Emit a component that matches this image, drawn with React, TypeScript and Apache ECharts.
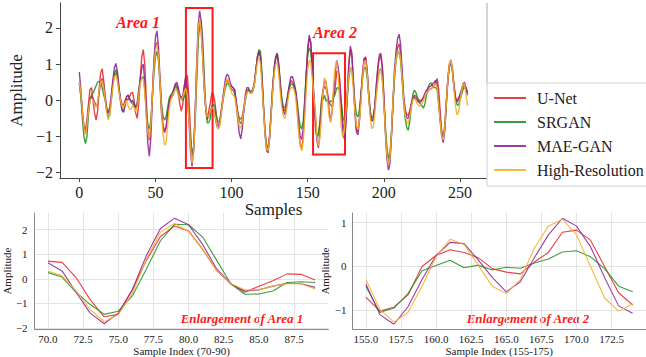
import React, { useEffect, useRef } from "react";
import * as echarts from "echarts";

const SERIES_NAMES = ["U-Net", "SRGAN", "MAE-GAN", "High-Resolution"];

const UNET = [
  0.45, 0.15, -0.35, -0.7, -0.85, -0.55, -0.1, 0.3, 0.35, 0.0,
  -0.35, -0.55, -0.3, 0.3, 0.75, 0.87, 0.55, 0.1, -0.2, -0.35,
  -0.25, 0.1, 0.45, 0.7, 0.75, 0.6, 0.3, 0.05, -0.1, -0.15,
  0.0, 0.05, 0.0, 0.1, 0.2, 0.22, 0.0, -0.35, -0.5, -0.1,
  0.6, 1.2, 1.4, 1.0, 0.0, -0.8, -1.1, -0.75, 0.2, 1.0,
  1.5, 1.6, 1.2, 0.4, -0.4, -0.8, -0.9, -0.75, -0.4, -0.05,
  0.1, 0.1, 0.2, 0.4, 0.45, 0.2, -0.1, -0.3, -0.1, 0.4,
  0.72, 0.67, 0.05, -0.85, -1.55, -1.45, -0.45, 0.75, 1.72, 2.15,
  1.95, 1.2, 0.33, -0.2, -0.55, -0.3, -0.08, 0.2, 0.18, -0.05,
  -0.4, -0.7, -0.65, -0.35, -0.05, 0.25, 0.45, 0.55, 0.5, 0.4,
  0.38, 0.35, 0.25, 0.0, -0.3, -0.5, -0.52, -0.45, -0.2, 0.05,
  0.22, 0.3, 0.22, 0.2, 0.3, 0.5, 0.85, 1.2, 1.38, 1.2,
  0.6, -0.2, -0.85, -1.25, -1.3, -0.95, -0.3, 0.35, 0.85, 1.15,
  1.25, 0.9, 0.4, 0.0, -0.25, -0.3, -0.1, 0.2, 0.4, 0.55,
  0.5, 0.4, 0.25, -0.2, -0.8, -1.2, -1.35, -1.05, -0.3, 0.6,
  1.35, 1.72, 1.6, 0.9, 0.05, -0.7, -1.02, -0.93, -0.65, 0.0,
  0.25, 0.38, 0.32, 0.2, -0.05, -0.13, -0.17, 0.1, 0.32, 0.78,
  0.83, 0.6, 0.0, -0.6, -0.88, -0.6, 0.2, 1.0, 1.4, 1.2,
  0.5, -0.3, -0.8, -0.87, -0.5, 0.15, 0.75, 1.15, 1.2, 0.85,
  0.25, -0.3, -0.57, -0.55, -0.2, 0.35, 0.85, 1.15, 1.25, 0.9,
  0.1, -0.8, -1.45, -1.75, -1.6, -0.95, -0.05, 0.7, 1.2, 1.45,
  1.56, 1.3, 0.7, 0.1, -0.25, -0.4, -0.41, -0.3, -0.1, 0.05,
  0.14, 0.12, 0.05, 0.0, 0.0, 0.0, 0.05, 0.1, 0.18, 0.25,
  0.3, 0.32, 0.35, 0.4, 0.5, 0.6, 0.3, -0.3, -0.85, -1.05,
  -0.8, -0.1, 0.6, 1.0, 1.12, 0.9, 0.45, 0.1, 0.0, 0.05,
  0.15, 0.25, 0.35, 0.42, 0.35, 0.23,
];

const SRGAN = [
  0.5, 0.1, -0.5, -1.0, -1.2, -1.0, -0.4, 0.0, 0.15, 0.2,
  0.3, 0.4, 0.5, 0.52, 0.5, 0.35, 0.15, 0.0, -0.25, -0.45,
  -0.4, 0.0, 0.45, 0.75, 0.85, 0.65, 0.3, 0.0, -0.25, -0.33,
  -0.15, 0.1, 0.12, 0.05, -0.05, -0.1, -0.15, -0.2, -0.05, 0.3,
  0.55, 0.62, 0.65, 0.3, -0.3, -0.7, -0.8, -0.55, 0.1, 0.75,
  1.2, 1.35, 1.1, 0.55, -0.1, -0.45, -0.55, -0.45, -0.2, 0.05,
  0.15, 0.2, 0.3, 0.4, 0.35, 0.15, 0.1, 0.05, 0.0, 0.1,
  0.25, 0.07, -0.55, -1.05, -1.45, -1.32, -0.7, 0.4, 1.55, 2.22,
  2.2, 1.7, 0.75, -0.2, -0.63, -0.62, -0.5, -0.15, -0.12, -0.15,
  -0.45, -0.6, -0.58, -0.4, -0.1, 0.15, 0.35, 0.47, 0.45, 0.35,
  0.3, 0.28, 0.2, -0.05, -0.35, -0.55, -0.65, -0.55, -0.3, 0.0,
  0.2, 0.3, 0.25, 0.25, 0.3, 0.5, 0.85, 1.2, 1.4, 1.35,
  0.7, -0.2, -0.9, -1.3, -1.35, -1.0, -0.35, 0.35, 0.9, 1.2,
  1.3, 1.0, 0.5, 0.05, -0.2, -0.2, -0.05, 0.15, 0.35, 0.45,
  0.45, 0.35, 0.25, 0.0, -0.4, -0.7, -0.8, -0.6, 0.0, 0.7,
  1.25, 1.45, 1.35, 0.8, 0.15, -0.45, -1.05, -0.95, -0.62, -0.1,
  0.02, 0.14, -0.03, 0.03, -0.08, -0.02, -0.04, 0.08, 0.17, 0.33,
  0.36, 0.22, -0.05, -0.45, -0.58, -0.4, 0.1, 0.6, 0.9, 0.85,
  0.45, -0.05, -0.4, -0.46, -0.25, 0.2, 0.6, 0.88, 0.92, 0.65,
  0.15, -0.3, -0.48, -0.45, -0.2, 0.2, 0.55, 0.82, 0.87, 0.6,
  0.0, -0.7, -1.3, -1.6, -1.5, -0.9, -0.1, 0.6, 1.1, 1.3,
  1.33, 1.1, 0.55, -0.05, -0.5, -0.75, -0.83, -0.6, -0.2, 0.15,
  0.28, 0.22, 0.1, -0.05, -0.1, -0.15, -0.22, -0.1, 0.15, 0.35,
  0.45, 0.48, 0.4, 0.35, 0.35, 0.3, -0.1, -0.55, -0.9, -1.0,
  -0.7, -0.05, 0.55, 0.95, 1.02, 0.8, 0.4, 0.05, -0.12, -0.14,
  0.0, 0.15, 0.3, 0.35, 0.3, 0.2,
];

const MAEGAN = [
  0.78, 0.3, -0.3, -0.75, -0.9, -0.7, -0.25, 0.05, 0.1, 0.05,
  -0.05, -0.15, -0.1, 0.2, 0.5, 0.6, 0.4, 0.05, -0.3, -0.35,
  -0.2, 0.15, 0.55, 0.9, 1.02, 0.8, 0.4, 0.0, -0.28, -0.33,
  -0.15, 0.1, 0.15, 0.05, -0.05, 0.0, -0.1, -0.2, -0.15, 0.2,
  0.6, 0.9, 1.0, 0.5, -0.4, -1.2, -1.55, -1.0, 0.1, 1.1,
  1.75, 1.92, 1.45, 0.6, -0.25, -0.7, -0.85, -0.75, -0.4, -0.05,
  0.1, 0.15, 0.3, 0.45, 0.5, 0.35, 0.15, 0.05, 0.15, 0.4,
  0.65, 0.32, -0.55, -1.4, -1.83, -1.4, -0.45, 0.95, 2.05, 2.47,
  2.2, 1.4, 0.4, -0.2, -0.5, -0.45, -0.3, -0.18, -0.2, -0.35,
  -0.65, -0.78, -0.7, -0.4, -0.05, 0.3, 0.6, 0.72, 0.68, 0.5,
  0.38, 0.35, 0.3, -0.05, -0.5, -0.9, -1.07, -0.8, -0.3, 0.15,
  0.35, 0.35, 0.25, 0.2, 0.25, 0.45, 0.85, 1.2, 1.35, 1.2,
  0.55, -0.25, -0.95, -1.4, -1.45, -1.05, -0.35, 0.35, 0.9, 1.2,
  1.3, 0.95, 0.4, -0.05, -0.3, -0.4, -0.2, 0.15, 0.45, 0.65,
  0.65, 0.5, 0.3, -0.1, -0.6, -1.0, -1.08, -0.8, -0.1, 0.75,
  1.45, 1.8, 1.6, 0.85, 0.1, -0.4, -1.1, -1.32, -0.92, -0.3,
  0.25, 0.55, 0.52, 0.15, -0.25, -0.58, -0.35, 0.2, 0.72, 1.1,
  0.92, 0.45, -0.25, -0.9, -1.07, -0.75, 0.1, 1.0, 1.5, 1.3,
  0.55, -0.35, -0.88, -0.96, -0.55, 0.15, 0.7, 1.12, 1.18, 0.85,
  0.2, -0.35, -0.57, -0.55, -0.2, 0.4, 0.9, 1.25, 1.3, 0.95,
  0.1, -0.9, -1.6, -1.93, -1.75, -1.0, -0.05, 0.85, 1.35, 1.7,
  1.83, 1.55, 0.85, 0.1, -0.3, -0.48, -0.5, -0.35, -0.1, 0.05,
  0.1, 0.05, -0.02, -0.05, -0.05, 0.0, 0.1, 0.2, 0.28, 0.33,
  0.38, 0.4, 0.45, 0.5, 0.55, 0.45, 0.0, -0.55, -1.0, -1.17,
  -0.85, -0.15, 0.5, 0.95, 1.05, 0.85, 0.4, 0.05, -0.05, 0.0,
  0.15, 0.3, 0.45, 0.5, 0.3, 0.14,
];

const HIGHRES = [
  0.5, 0.2, -0.3, -0.75, -0.95, -0.7, -0.3, 0.0, 0.05, 0.0,
  -0.1, -0.2, -0.05, 0.25, 0.5, 0.55, 0.35, 0.0, -0.35, -0.55,
  -0.4, 0.0, 0.35, 0.65, 0.7, 0.55, 0.25, 0.0, -0.15, -0.2,
  -0.1, 0.0, -0.15, -0.25, -0.25, -0.15, -0.2, -0.3, -0.2, 0.15,
  0.45, 0.6, 0.6, 0.2, -0.45, -0.9, -1.05, -0.65, 0.15, 0.9,
  1.4, 1.55, 1.2, 0.5, -0.3, -0.95, -1.25, -1.15, -0.7, -0.25,
  0.0, 0.1, 0.2, 0.3, 0.28, 0.15, 0.05, 0.0, 0.1, 0.25,
  0.32, 0.12, -0.5, -1.25, -1.75, -1.45, -0.6, 0.8, 1.9, 2.25,
  1.93, 1.2, 0.35, -0.2, -0.45, -0.45, -0.3, -0.2, -0.2, -0.42,
  -0.6, -0.8, -0.75, -0.45, -0.1, 0.2, 0.45, 0.6, 0.55, 0.35,
  0.2, 0.15, 0.1, -0.15, -0.45, -0.7, -0.78, -0.6, -0.25, 0.05,
  0.2, 0.25, 0.2, 0.2, 0.25, 0.45, 0.75, 1.05, 1.2, 1.0,
  0.4, -0.3, -0.95, -1.35, -1.4, -1.05, -0.4, 0.25, 0.75, 1.0,
  1.05, 0.7, 0.2, -0.2, -0.45, -0.5, -0.3, 0.0, 0.25, 0.35,
  0.35, 0.3, 0.1, -0.3, -0.85, -1.25, -1.4, -1.15, -0.5, 0.25,
  0.85, 1.1, 1.05, 0.6, 0.1, -0.3, -0.98, -1.27, -1.05, -0.45,
  0.22, 0.62, 0.5, 0.03, -0.45, -0.62, -0.3, 0.42, 0.92, 1.08,
  0.72, 0.0, -0.72, -1.02, -0.85, -0.35, 0.2, 0.7, 0.92, 0.8,
  0.3, -0.3, -0.7, -0.82, -0.55, -0.05, 0.6, 1.05, 1.1, 0.75,
  0.15, -0.45, -0.78, -0.75, -0.4, 0.1, 0.5, 0.8, 0.85, 0.55,
  -0.1, -0.85, -1.5, -1.8, -1.6, -0.9, 0.0, 0.7, 1.15, 1.35,
  1.38, 1.15, 0.6, 0.0, -0.4, -0.6, -0.64, -0.45, -0.2, 0.0,
  0.05, 0.0, -0.1, -0.15, -0.15, -0.1, 0.0, 0.1, 0.2, 0.25,
  0.3, 0.3, 0.35, 0.4, 0.45, 0.35, -0.1, -0.6, -1.0, -1.1,
  -0.75, -0.1, 0.55, 1.0, 1.1, 0.85, 0.35, -0.15, -0.4, -0.35,
  -0.05, 0.25, 0.45, 0.45, 0.15, -0.15,
];

const MAIN_X_TICKS = [0, 50, 100, 150, 200, 250];
const MAIN_Y_TICKS = [-2, -1, 0, 1, 2];
const AREA1_RANGE = [70, 89];
const AREA2_RANGE = [155, 174];
const A1_X_TICKS = [70, 72.5, 75, 77.5, 80, 82.5, 85, 87.5];
const A1_Y_TICKS = [-2, -1, 0, 1, 2];
const A2_X_TICKS = [155, 157.5, 160, 162.5, 165, 167.5, 170, 172.5];
const A2_Y_TICKS = [-1, 0, 1];

const COLORS = [
  "rgba(232,30,40,0.85)",
  "rgba(34,145,34,0.88)",
  "rgba(140,35,150,0.88)",
  "rgba(247,175,40,0.9)",
];

const ALL = [UNET, SRGAN, MAEGAN, HIGHRES];
const FONT = "'Liberation Serif', 'Times New Roman', serif";
const minus = (v: number | string) => String(v).replace("-", "\u2212");

export default function App() {
  const ref = useRef<HTMLDivElement>(null);

  useEffect(() => {
    if (!ref.current) return;
    const chart = echarts.init(ref.current, undefined, { renderer: "svg" });

    const mkX = (
      gridIndex: number,
      min: number,
      max: number,
      ticks: number[],
      opts: any
    ) => ({
      gridIndex,
      type: "value",
      min,
      max,
      axisLine: { show: true, onZero: false, lineStyle: { color: opts.axisColor, width: 1 } },
      axisTick: {
        show: opts.showTick,
        customValues: ticks,
        length: 4,
        lineStyle: { color: opts.axisColor },
      },
      axisLabel: {
        customValues: ticks,
        fontFamily: FONT,
        fontSize: opts.fontSize,
        color: "#222",
        margin: opts.margin,
        formatter: opts.fmt,
      },
      splitLine: { show: opts.grid, lineStyle: { color: "#e4e4e4", width: 1 } },
      name: opts.name,
      nameLocation: "middle",
      nameGap: opts.nameGap,
      nameTextStyle: { fontFamily: FONT, fontSize: opts.nameSize, color: "#222" },
    });

    const mainOpts = { axisColor: "#444", showTick: true, fontSize: 16, margin: 6, grid: false, nameSize: 17 };
    const subOpts = { axisColor: "#8a8a8a", showTick: false, fontSize: 11, margin: 4, grid: true, nameSize: 11 };

    const series: any[] = [];
    SERIES_NAMES.forEach((name, k) => {
      series.push({
        name,
        type: "line",
        xAxisIndex: 0,
        yAxisIndex: 0,
        symbol: "none",
        lineStyle: { color: COLORS[k], width: 1.4 },
        itemStyle: { color: COLORS[k] },
        data: ALL[k].map((v, i) => [i, v]),
        markArea:
          k === 0
            ? {
                silent: true,
                itemStyle: { color: "rgba(0,0,0,0)", borderColor: "#ff1a1a", borderWidth: 2 },
                data: [
                  [{ xAxis: 70, yAxis: 2.55 }, { xAxis: 87.5, yAxis: -1.87 }],
                  [{ xAxis: 153.5, yAxis: 1.3 }, { xAxis: 174.5, yAxis: -1.5 }],
                ],
              }
            : undefined,
        z: 2 + k,
      });
    });
    [AREA1_RANGE, AREA2_RANGE].forEach((rng, gi) => {
      SERIES_NAMES.forEach((name, k) => {
        const pts: number[][] = [];
        for (let s = rng[0]; s <= rng[1]; s++) pts.push([s, ALL[k][s]]);
        series.push({
          name,
          type: "line",
          xAxisIndex: gi + 1,
          yAxisIndex: gi + 1,
          symbol: "none",
          lineStyle: { color: COLORS[k], width: 1.1 },
          itemStyle: { color: COLORS[k] },
          data: pts,
          z: 2 + k,
        });
      });
    });

    const option: any = {
      animation: false,
      textStyle: { fontFamily: FONT },
      grid: [
        { left: 43, top: 3, width: 444, height: 175 },
        { left: 30.5, top: 213, width: 298, height: 118 },
        { left: 352.5, top: 213, width: 297, height: 118 },
      ],
      xAxis: [
        mkX(0, -12.75, 267.75, MAIN_X_TICKS, { ...mainOpts, name: "Samples", nameGap: 15, fmt: (v: number) => String(v) }),
        mkX(1, 69.05, 89.95, A1_X_TICKS, { ...subOpts, name: "Sample Index (70-90)", nameGap: 12, fmt: (v: number) => v.toFixed(1) }),
        mkX(2, 154.05, 174.95, A2_X_TICKS, { ...subOpts, name: "Sample Index (155-175)", nameGap: 12, fmt: (v: number) => v.toFixed(1) }),
      ],
      yAxis: [
        { ...mkX(0, -2.15, 2.69, MAIN_Y_TICKS, { ...mainOpts, margin: 7, name: "Amplitude", nameGap: 25, fmt: minus }), nameRotate: 90 },
        { ...mkX(1, -2.05, 2.68, A1_Y_TICKS, { ...subOpts, margin: 7, name: "Amplitude", nameGap: 14, fmt: minus }), nameRotate: 90 },
        { ...mkX(2, -1.43, 1.22, A2_Y_TICKS, { ...subOpts, margin: 6, name: "Amplitude", nameGap: 14, fmt: minus }), nameRotate: 90 },
      ],
      legend: {
        data: SERIES_NAMES,
        orient: "vertical",
        left: 487,
        top: 83,
        padding: [7, 14, 8, 6],
        itemWidth: 32,
        itemHeight: 14,
        itemGap: 8,
        borderColor: "#d0d0d0",
        borderWidth: 1,
        backgroundColor: "#fff",
        itemStyle: { opacity: 0 },
        textStyle: { fontFamily: FONT, fontSize: 16, color: "#222", padding: [0, 0, 0, 6] },
      },
      graphic: [
        { type: "line", shape: { x1: 487, y1: 3, x2: 487, y2: 83 }, style: { stroke: "#aaa", lineWidth: 1 } },
        {
          type: "text", x: 138, y: 22,
          style: { text: "Area 1", fill: "#ff1a1a", font: `italic bold 16px ${FONT}`, align: "center", verticalAlign: "middle" },
        },
        {
          type: "text", x: 335, y: 32,
          style: { text: "Area 2", fill: "#ff1a1a", font: `italic bold 16px ${FONT}`, align: "center", verticalAlign: "middle" },
        },
        {
          type: "text", x: 242, y: 318,
          style: { text: "Enlargement of Area 1", fill: "#ff1a1a", font: `italic bold 13px ${FONT}`, align: "center", verticalAlign: "middle" },
        },
        {
          type: "text", x: 528, y: 318,
          style: { text: "Enlargement of Area 2", fill: "#ff1a1a", font: `italic bold 13px ${FONT}`, align: "center", verticalAlign: "middle" },
        },
      ],
      series,
    };

    chart.setOption(option);
    return () => chart.dispose();
  }, []);

  return (
    <div
      ref={ref}
      style={{ position: "absolute", left: 0, top: 0, width: 646, height: 357, background: "#fff" }}
    />
  );
}
